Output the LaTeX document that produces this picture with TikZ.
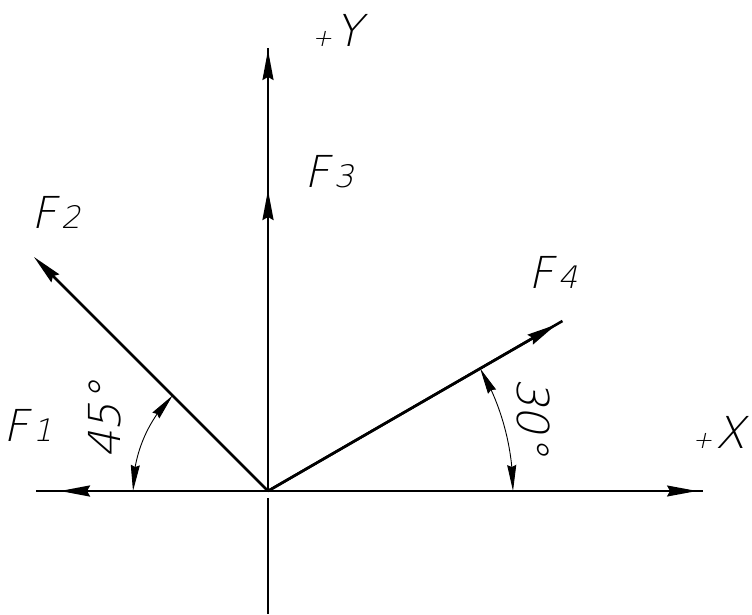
\documentclass[tikz,border=0pt]{standalone}
\usepackage{fontspec}
\usetikzlibrary{arrows.meta,calc,bending}
\IfFontExistsTF{DejaVu Sans ExtraLight}
  {\newfontfamily\labfont{DejaVu Sans ExtraLight}[FakeSlant=0.22]}
  {\newfontfamily\labfont{DejaVu Sans}[FakeSlant=0.22]}
\newcommand\smalldig[1]{\kern4pt{\fontsize{31pt}{31pt}\selectfont #1}}
\newcommand\smallplus{{\fontsize{24pt}{24pt}\selectfont +}\kern3pt}
\tikzset{
  vec/.style={line width=2.6pt},
  axisline/.style={line width=1.4pt},
  yaxisline/.style={line width=2pt},
  thinline/.style={line width=1.2pt},
  bighead/.style={-{Stealth[length=30pt,width=11pt,inset=3pt]}},
  archead/.style={{Stealth[length=26pt,width=9pt,inset=2pt,flex]}-{Stealth[length=26pt,width=9pt,inset=2pt,flex]}},
  arcline/.style={line width=0.9pt},
  lab/.style={font=\labfont\fontsize{44pt}{44pt}\selectfont, inner sep=0pt}
}
\begin{document}
\begin{tikzpicture}[x=1pt,y=1pt]
\useasboundingbox[fill=white] (0,0) rectangle (752,614);
% key points
\coordinate (O) at (268,123);
\coordinate (F1end) at (36,123);
\coordinate (F1tip) at (60,123);
\coordinate (F2end) at ($(O)+(135:331)$);
\coordinate (F3tip) at (268,424);
\coordinate (Ytop) at (268,566);
\coordinate (Ytip) at (268,564);
\coordinate (F4end) at ($(O)+(30:340)$);
\coordinate (F4tip) at ($(O)+(30:333)$);
\coordinate (Xend) at (703,123);
\coordinate (Xtip) at (697,123);
\coordinate (Ylow) at (268,116);
\coordinate (Ybot) at (268,0);
% axes
\draw[axisline] (O) -- (Xend);
\draw[axisline,bighead] (O) -- (Xtip);
\draw[yaxisline] (O) -- (Ytop);
\draw[yaxisline,bighead] (O) -- (Ytip);
\draw[thinline] (Ylow) -- (Ybot);
% force vectors
\draw[vec] (O) -- (F1end);
\draw[vec,bighead] (O) -- (F1tip);
\draw[vec,bighead] (O) -- (F2end);
\draw[vec,bighead] (O) -- (F3tip);
\draw[vec] (O) -- (F4end);
\draw[vec,bighead] (O) -- (F4tip);
% angle arcs
\draw[arcline,archead] ($(O)+(180:135)$) arc[start angle=180,end angle=135,radius=135];
\draw[arcline,archead] ($(O)+(0:245)$) arc[start angle=0,end angle=30,radius=245];
% labels
\node[lab] (lF1) at (28,189) {F\smalldig{1}};
\node[lab] (lF2) at (56,402) {F\smalldig{2}};
\node[lab] (lF3) at (329,442) {F\smalldig{3}};
\node[lab] (lF4) at (553,342) {F\smalldig{4}};
\node[lab] (lY) at (337,584) {\smallplus Y};
\node[lab] (lX) at (719,182) {\smallplus X};
\node[lab,rotate=90] (l45) at (105,194) {45°};
\node[lab,rotate=-90] (l30) at (533,197) {30°};
\end{tikzpicture}
\end{document}
